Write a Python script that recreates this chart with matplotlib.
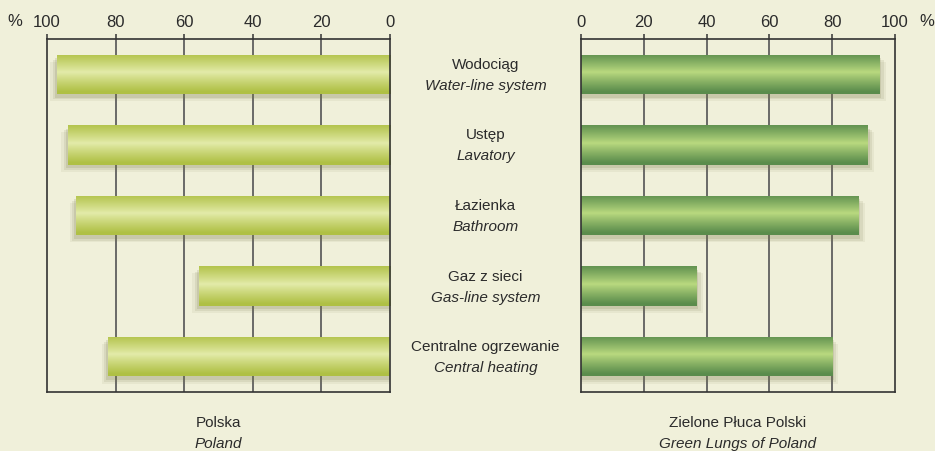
import numpy as np
import matplotlib
matplotlib.use("Agg")
import matplotlib.pyplot as plt
import matplotlib.transforms as mtransforms
from matplotlib.colors import LinearSegmentedColormap

plt.rcParams['font.family'] = ['Liberation Sans Narrow', 'Liberation Sans', 'DejaVu Sans']

categories_pl = ['Wodociąg', 'Ustęp', 'Łazienka', 'Gaz z sieci', 'Centralne ogrzewanie']
categories_en = ['Water-line system', 'Lavatory', 'Bathroom', 'Gas-line system', 'Central heating']
poland = [97.1, 93.9, 91.5, 55.7, 82.2]
green_lungs = [95.2, 91.4, 88.5, 36.9, 80.0]
ticks = [0, 20, 40, 60, 80, 100]

bg = '#f0f0da'
txt = '#2b2b2b'
fs = 11
bar_h = 0.56

fig = plt.figure(figsize=(9.35, 4.52), dpi=100, facecolor=bg)
ax1 = fig.add_axes([47 / 935, 59 / 452, 343 / 935, 353 / 452])
ax2 = fig.add_axes([581 / 935, 59 / 452, 314 / 935, 353 / 452])

# vertical light band in the middle of each bar
prof = np.abs(np.linspace(-1, 1, 64) + 0.1)
prof = np.clip(prof, 0, 1) ** 0.9
grad = prof.reshape(-1, 1)


def draw_panel(ax, values, edge, mid, flip):
    cmap = LinearSegmentedColormap.from_list('g', [mid, edge])
    ax.set_facecolor(bg)
    ys = np.arange(len(values))
    for y, v in zip(ys, values):
        # soft drop shadow
        for k, a in enumerate([0.16, 0.12, 0.08]):
            d = 0.5 + k * 0.7
            ax.barh(y + 0.05 + k * 0.025, v + d, height=bar_h, left=0,
                    color='#77774a', alpha=a, zorder=2, linewidth=0)
        p = ax.barh(y, v, height=bar_h, color=edge, zorder=3, linewidth=0)[0]
        im = ax.imshow(grad, cmap=cmap, aspect='auto', zorder=4,
                       extent=(0, v, y + bar_h / 2, y - bar_h / 2),
                       interpolation='bicubic')
        im.set_clip_path(p)
    ax.set_ylim(len(values) - 0.5, -0.5)
    if flip:
        ax.set_xlim(100, 0)
    else:
        ax.set_xlim(0, 100)
    ax.set_xticks(ticks)
    ax.xaxis.tick_top()
    ax.tick_params(axis='x', direction='out', length=3.5, width=1.1,
                   color='#333333', labelsize=fs + 1, labelcolor=txt, pad=4)
    ax.set_yticks([])
    for x in [20, 40, 60, 80]:
        ax.axvline(x, color='#5f5f5f', lw=1.3, zorder=1)
    for s in ax.spines.values():
        s.set_color('#333333')
        s.set_linewidth(1.2)
        s.set_zorder(5)


draw_panel(ax1, poland, '#afc044', '#e3eba9', True)
draw_panel(ax2, green_lungs, '#5a8c4c', '#b9d97f', False)

# category labels in the middle
tr = mtransforms.blended_transform_factory(fig.transFigure, ax1.transData)
for i, (pl, en) in enumerate(zip(categories_pl, categories_en)):
    ax1.annotate(pl, (485.5 / 935, i), xycoords=tr, xytext=(0, 7.6),
                 textcoords='offset points', ha='center', va='center',
                 fontsize=fs, color=txt, annotation_clip=False)
    ax1.annotate(en, (485.5 / 935, i), xycoords=tr, xytext=(0, -7.6),
                 textcoords='offset points', ha='center', va='center',
                 fontsize=fs, color=txt, style='italic', annotation_clip=False)

fig.text(15 / 935, 1 - 21 / 452, '%', ha='center', va='center', fontsize=fs + 1, color=txt)
fig.text(927 / 935, 1 - 21 / 452, '%', ha='center', va='center', fontsize=fs + 1, color=txt)

fig.text(218.5 / 935, 1 - 423 / 452, 'Polska', ha='center', va='center', fontsize=fs, color=txt)
fig.text(218.5 / 935, 1 - 444 / 452, 'Poland', ha='center', va='center', fontsize=fs,
         color=txt, style='italic')
fig.text(738 / 935, 1 - 423 / 452, 'Zielone Płuca Polski', ha='center', va='center',
         fontsize=fs, color=txt)
fig.text(738 / 935, 1 - 444 / 452, 'Green Lungs of Poland', ha='center', va='center',
         fontsize=fs, color=txt, style='italic')

fig.savefig('out.png', dpi=100, facecolor=bg)
